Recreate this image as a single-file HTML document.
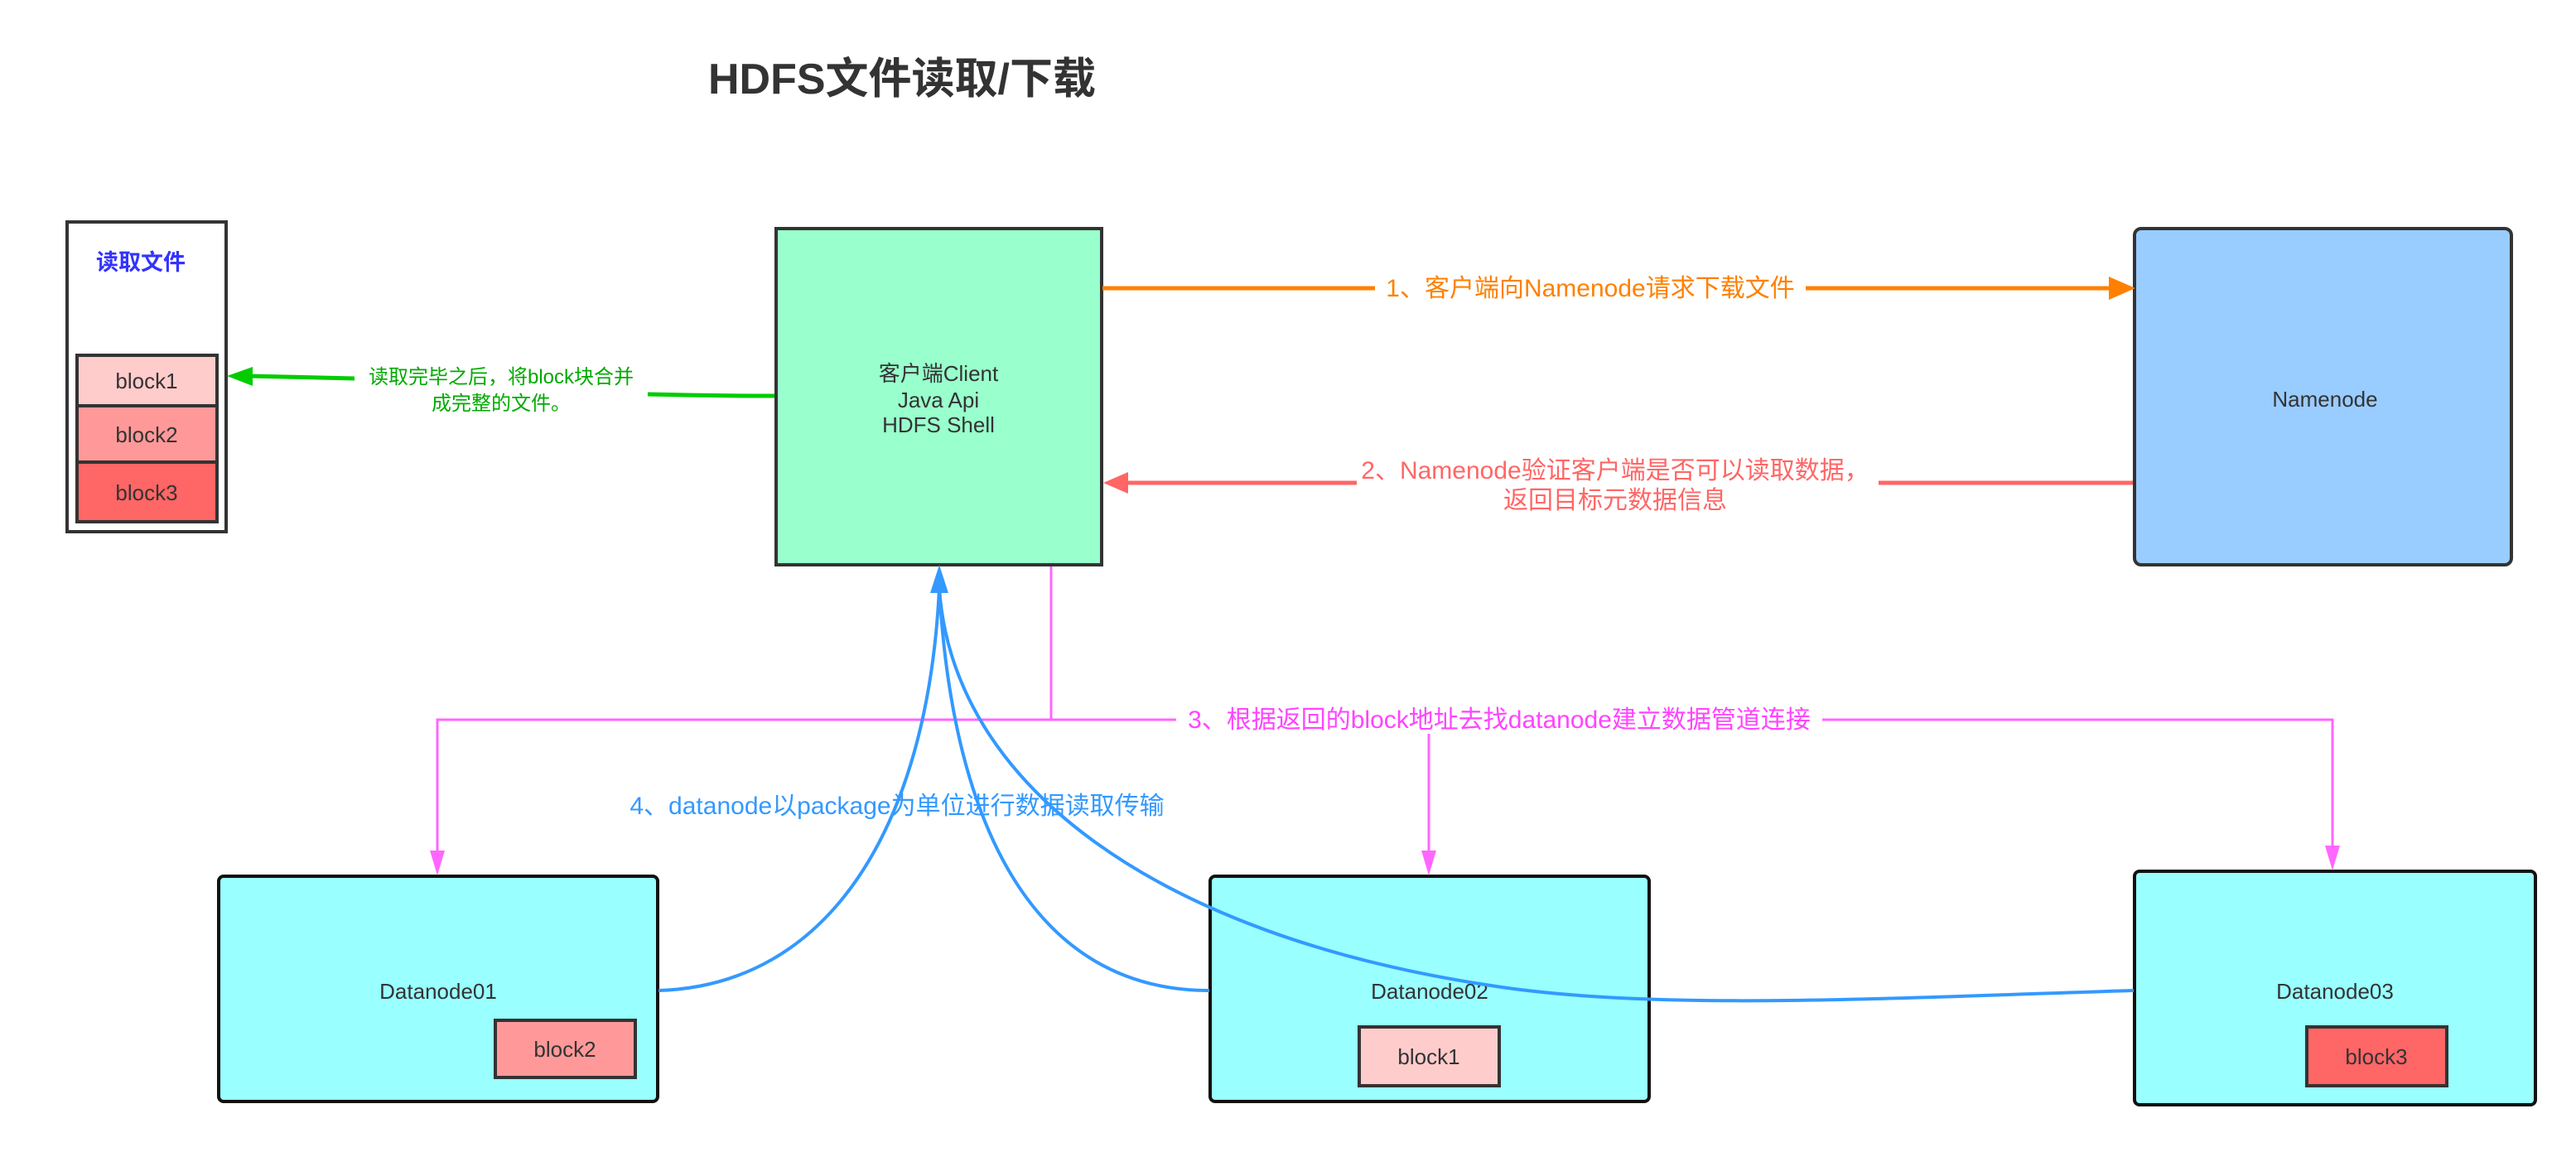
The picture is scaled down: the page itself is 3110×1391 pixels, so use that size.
<!DOCTYPE html>
<html><head><meta charset="utf-8"><style>
html,body{margin:0;padding:0;background:#fff;}
svg text{font-family:"Liberation Sans","Noto Sans CJK SC",sans-serif;}
</style></head><body>
<svg width="3110" height="1386" viewBox="0 0 3110 1386" xmlns="http://www.w3.org/2000/svg">
<rect width="3110" height="1386" fill="#fff"/>
<text x="1089" y="113" font-size="52" font-weight="bold" fill="#333" text-anchor="middle">HDFS文件读取/下载</text>

<!-- file box -->
<rect x="81" y="268" width="192" height="374" fill="#fff" stroke="#333" stroke-width="4"/>
<text x="170" y="326" font-size="27" font-weight="bold" fill="#3333ff" text-anchor="middle">读取文件</text>
<rect x="93" y="429" width="169" height="61" fill="#FFCCCC" stroke="#333" stroke-width="4"/>
<rect x="93" y="490" width="169" height="68" fill="#FF9999" stroke="#333" stroke-width="4"/>
<rect x="93" y="558" width="169" height="72" fill="#FF6666" stroke="#333" stroke-width="4"/>
<text x="177" y="469" font-size="26" fill="#333" text-anchor="middle">block1</text>
<text x="177" y="534" font-size="26" fill="#333" text-anchor="middle">block2</text>
<text x="177" y="604" font-size="26" fill="#333" text-anchor="middle">block3</text>

<!-- client -->
<rect x="937" y="276" width="393" height="406" fill="#99FFCC" stroke="#333" stroke-width="4"/>
<text x="1133" y="460" font-size="26" fill="#333" text-anchor="middle">客户端Client</text>
<text x="1133" y="492" font-size="26" fill="#333" text-anchor="middle">Java Api</text>
<text x="1133" y="522" font-size="26" fill="#333" text-anchor="middle">HDFS Shell</text>

<!-- namenode -->
<rect x="2577" y="276" width="455" height="406" rx="8" fill="#99CCFF" stroke="#333" stroke-width="4"/>
<text x="2807" y="491" font-size="26" fill="#333" text-anchor="middle">Namenode</text>

<!-- green arrow -->
<path d="M935,478 C880,478 820,477 782,476" fill="none" stroke="#00CC00" stroke-width="5"/>
<path d="M428,457 L300,454" fill="none" stroke="#00CC00" stroke-width="5"/>
<polygon points="274,454 305,443 305,466" fill="#00CC00"/>
<text x="605" y="463" font-size="24" fill="#00AA00" text-anchor="middle">读取完毕之后，将block块合并</text>
<text x="605" y="495" font-size="24" fill="#00AA00" text-anchor="middle">成完整的文件。</text>

<!-- orange arrow -->
<line x1="1331" y1="348" x2="1660" y2="348" stroke="#FF8000" stroke-width="5"/>
<line x1="2180" y1="348" x2="2550" y2="348" stroke="#FF8000" stroke-width="5"/>
<polygon points="2578,348 2546,334 2546,362" fill="#FF8000"/>
<text x="1920" y="358" font-size="30" fill="#FF8000" text-anchor="middle">1、客户端向Namenode请求下载文件</text>

<!-- red arrow -->
<line x1="2575" y1="583" x2="2268" y2="583" stroke="#FF6666" stroke-width="5"/>
<line x1="1638" y1="583" x2="1360" y2="583" stroke="#FF6666" stroke-width="5"/>
<polygon points="1332,583 1362,570 1362,596" fill="#FF6666"/>
<text x="1950" y="578" font-size="30" fill="#FF6666" text-anchor="middle">2、Namenode验证客户端是否可以读取数据，</text>
<text x="1950" y="614" font-size="30" fill="#FF6666" text-anchor="middle">返回目标元数据信息</text>

<!-- datanodes -->
<rect x="264" y="1058" width="530" height="272" rx="6" fill="#99FFFF" stroke="#111" stroke-width="4"/>
<rect x="1461" y="1058" width="530" height="272" rx="6" fill="#99FFFF" stroke="#111" stroke-width="4"/>
<rect x="2577" y="1052" width="484" height="282" rx="6" fill="#99FFFF" stroke="#111" stroke-width="4"/>
<text x="529" y="1206" font-size="26" fill="#333" text-anchor="middle">Datanode01</text>
<text x="1726" y="1206" font-size="26" fill="#333" text-anchor="middle">Datanode02</text>
<text x="2819" y="1206" font-size="26" fill="#333" text-anchor="middle">Datanode03</text>
<rect x="598" y="1232" width="169" height="69" fill="#FF9999" stroke="#333" stroke-width="4"/>
<text x="682" y="1276" font-size="26" fill="#333" text-anchor="middle">block2</text>
<rect x="1641" y="1240" width="169" height="71" fill="#FFCCCC" stroke="#333" stroke-width="4"/>
<text x="1725" y="1285" font-size="26" fill="#333" text-anchor="middle">block1</text>
<rect x="2785" y="1240" width="169" height="71" fill="#FF6666" stroke="#333" stroke-width="4"/>
<text x="2869" y="1285" font-size="26" fill="#333" text-anchor="middle">block3</text>

<!-- pink connectors -->
<g stroke="#FF66FF" fill="none">
<path d="M1269,684 L1269,869 L1420,869" stroke-width="3"/>
<path d="M1269,869 L528,869 L528,1030" stroke-width="3"/>
<path d="M2200,869 L2816,869 L2816,1025" stroke-width="3"/>
<path d="M1725,886 L1725,1030" stroke-width="3"/>
</g>
<g fill="#FF66FF">
<polygon points="528,1057 519,1027 537,1027"/>
<polygon points="1725,1057 1716,1027 1734,1027"/>
<polygon points="2816,1051 2807,1021 2825,1021"/>
</g>
<text x="1810" y="879" font-size="30" fill="#FF44FF" text-anchor="middle">3、根据返回的block地址去找datanode建立数据管道连接</text>

<!-- blue curves -->
<g stroke="#3399FF" stroke-width="4" fill="none">
<path d="M795,1196 C1000,1190 1120,1000 1134,710"/>
<path d="M1460,1196 C1250,1196 1150,1000 1134,710"/>
<path d="M2576,1196 C2300,1204 2000,1222 1800,1190 C1400,1130 1150,950 1134,710"/>
</g>
<polygon points="1134,682 1123,716 1145,716" fill="#3399FF"/>
<rect x="750" y="950" width="666" height="40" fill="#fff" opacity="0"/>
<text x="1083" y="983" font-size="30" fill="#3399FF" text-anchor="middle">4、datanode以package为单位进行数据读取传输</text>
</svg>
</body></html>
